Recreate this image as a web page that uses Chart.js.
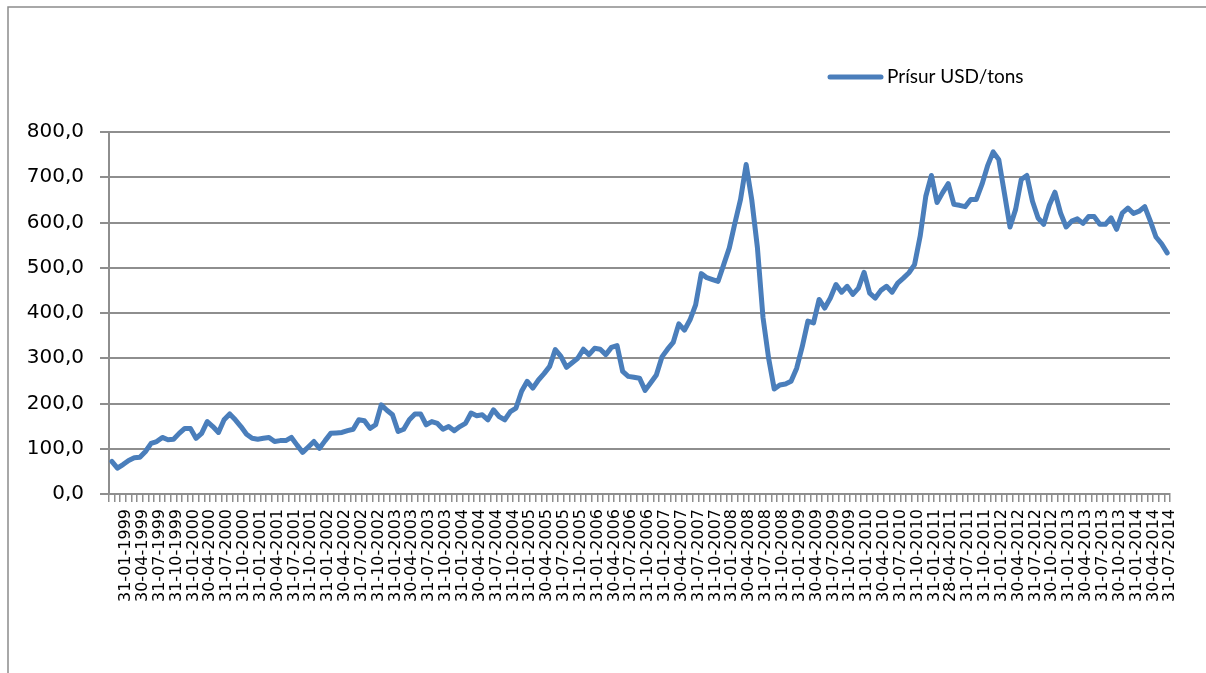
<!DOCTYPE html>
<html lang="pt-BR">

<head>
  <meta charset="utf-8">
  <title>Prísur USD/tons</title>
  <script src="https://cdn.jsdelivr.net/npm/chart.js"></script>
  <style>
    html, body {
      margin: 0;
      padding: 0;
      background: #fff;
    }

    #wrap {
      width: 1206px;
      height: 673px;
    }
  </style>
</head>

<body>
  <div id="wrap">
    <canvas id="myChart" width="1206" height="673"></canvas>
  </div>

  <script>
    // Rótulos do eixo X (um a cada 3 meses)
    var tickLabels = [
      '31-01-1999', '30-04-1999', '31-07-1999', '31-10-1999',
      '31-01-2000', '30-04-2000', '31-07-2000', '31-10-2000',
      '31-01-2001', '30-04-2001', '31-07-2001', '31-10-2001',
      '31-01-2002', '30-04-2002', '31-07-2002', '31-10-2002',
      '31-01-2003', '30-04-2003', '31-07-2003', '31-10-2003',
      '31-01-2004', '30-04-2004', '31-07-2004', '31-10-2004',
      '31-01-2005', '30-04-2005', '31-07-2005', '31-10-2005',
      '31-01-2006', '30-04-2006', '31-07-2006', '31-10-2006',
      '31-01-2007', '30-04-2007', '31-07-2007', '31-10-2007',
      '31-01-2008', '30-04-2008', '31-07-2008', '31-10-2008',
      '31-01-2009', '30-04-2009', '31-07-2009', '31-10-2009',
      '31-01-2010', '30-04-2010', '31-07-2010', '31-10-2010',
      '31-01-2011', '28-04-2011', '31-07-2011', '31-10-2011',
      '31-01-2012', '30-04-2012', '31-07-2012', '30-10-2012',
      '31-01-2013', '30-04-2013', '31-07-2013', '30-10-2013',
      '31-01-2014', '30-04-2014', '31-07-2014'
    ];

    // Preço mensal (USD/tons)
    var prices = [
      72, 57, 65, 74, 80, 81, 94, 112, 116, 125,
      120, 121, 134, 145, 145, 123, 134, 160, 149, 136,
      164, 177, 164, 149, 132, 123, 121, 123, 125, 116,
      118, 118, 125, 108, 92, 104, 116, 101, 118, 134,
      135, 136, 140, 143, 164, 162, 145, 153, 197, 185,
      175, 138, 143, 164, 177, 177, 153, 160, 156, 143,
      149, 140, 149, 156, 179, 173, 175, 164, 186, 171,
      164, 182, 190, 227, 249, 234, 252, 266, 282, 319,
      304, 280, 290, 300, 320, 308, 322, 320, 308, 324,
      328, 271, 260, 258, 256, 229, 246, 263, 303, 320,
      335, 376, 362, 385, 418, 487, 478, 474, 470, 507,
      544, 599, 651, 728, 650, 545, 390, 300, 232, 241,
      243, 249, 278, 326, 382, 378, 430, 411, 433, 463,
      446, 459, 441, 455, 490, 444, 433, 450, 459, 446,
      466, 477, 489, 507, 570, 658, 704, 644, 666, 686,
      640, 638, 635, 651, 651, 684, 725, 756, 739, 665,
      590, 629, 695, 704, 647, 610, 596, 638, 667, 621,
      590, 603, 608, 598, 613, 613, 596, 596, 610, 585,
      621, 632, 620, 625, 635, 603, 568, 553, 533
    ];

    var firstLabel = 2; // primeiro mês com rótulo
    var categories = prices.map(function (v, i) {
      var k = i - firstLabel;
      return (k >= 0 && k % 3 === 0) ? tickLabels[k / 3] : '';
    });

    var lineColor = '#4a7ebb';
    var gridColor = '#8e8e8e';

    // moldura cinza do gráfico
    var frame = {
      id: 'frame',
      beforeDraw: function (chart) {
        var c = chart.ctx;
        c.save();
        c.fillStyle = '#fff';
        c.fillRect(0, 0, chart.width, chart.height);
        c.strokeStyle = '#8c8c8c';
        c.lineWidth = 1.5;
        c.strokeRect(8, 7, 1400, 900);
        c.restore();
      }
    };

    // legenda à direita, como no original
    var legendBox = {
      id: 'legendBox',
      afterDraw: function (chart) {
        var ds = chart.data.datasets[0];
        var c = chart.ctx;
        c.save();
        c.strokeStyle = ds.borderColor;
        c.lineWidth = 5;
        c.lineCap = 'round';
        c.beginPath();
        c.moveTo(830, 77);
        c.lineTo(881, 77);
        c.stroke();
        c.fillStyle = '#000';
        c.font = '19px Lato';
        c.textBaseline = 'middle';
        c.fillText(ds.label, 887, 77);
        c.restore();
      }
    };

    var ctx = document.getElementById('myChart').getContext('2d');
    var myChart = new Chart(ctx, {
      type: 'line',
      data: {
        labels: categories,
        datasets: [{
          label: 'Prísur USD/tons',
          data: prices,
          borderColor: lineColor,
          borderWidth: 5,
          borderJoinStyle: 'round',
          borderCapStyle: 'round',
          pointRadius: 0,
          tension: 0,
          fill: false
        }]
      },
      options: {
        responsive: false,
        devicePixelRatio: 1,
        animation: false,
        layout: {
          padding: { left: 0, top: 132, right: 36, bottom: 0 }
        },
        plugins: {
          legend: { display: false },
          tooltip: { enabled: false }
        },
        scales: {
          x: {
            type: 'category',
            offset: true,
            afterFit: function (scale) { scale.height = 179; },
            grid: {
              offset: true,
              drawOnChartArea: false,
              drawTicks: true,
              tickLength: 8,
              color: gridColor,
              lineWidth: 1.5
            },
            border: { color: gridColor, width: 2 },
            ticks: {
              autoSkip: false,
              maxRotation: 90,
              minRotation: 90,
              labelOffset: 3,
              padding: 7,
              color: '#000',
              font: { family: 'DejaVu Sans', size: 16 }
            }
          },
          y: {
            min: 0,
            max: 800,
            afterFit: function (scale) { scale.width = 109; },
            grid: {
              color: gridColor,
              lineWidth: 2,
              tickLength: 9
            },
            border: { color: gridColor, width: 2 },
            ticks: {
              stepSize: 100,
              padding: 16,
              color: '#000',
              font: { family: 'DejaVu Sans', size: 20 },
              callback: function (v) {
                return v.toFixed(1).replace('.', ',');
              }
            }
          }
        }
      },
      plugins: [frame, legendBox]
    });
  </script>
</body>

</html>
